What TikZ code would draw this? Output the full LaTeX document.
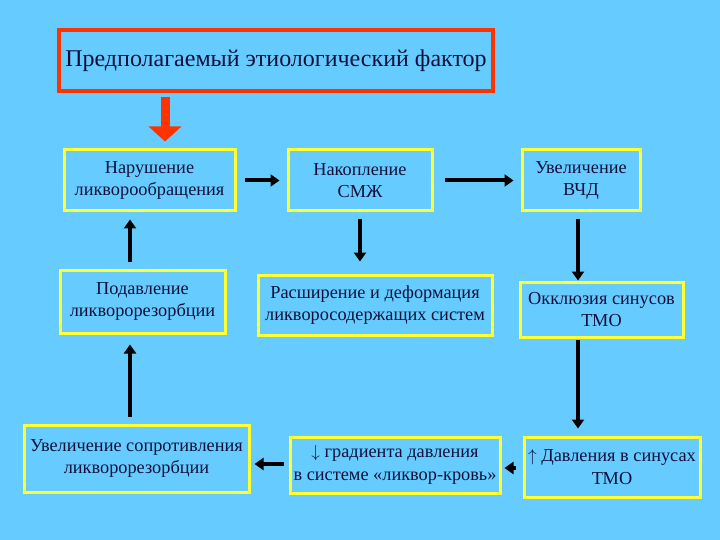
\documentclass[tikz,border=0pt]{standalone}
\usepackage{fontspec}
\setmainfont{Liberation Serif}
\usetikzlibrary{arrows.meta}
\definecolor{bg}{HTML}{66CCFF}
\definecolor{ybord}{HTML}{FFFF33}
\definecolor{rbord}{HTML}{FF3300}
\definecolor{txt}{HTML}{10103A}
\tikzset{
  box/.style={draw=ybord, line width=3pt, align=center, text=txt, inner sep=0pt,
    font=\fontsize{18.3}{22.5}\selectfont},
  arr/.style={draw=black, line width=4pt, -{Triangle[length=9pt,width=12pt]}},
  redarr/.style={draw=rbord, line width=9pt, -{Triangle[length=15pt,width=32pt]}},
}
\begin{document}
\begin{tikzpicture}[x=1pt,y=-1pt]
\fill[bg] (0,0) rectangle (720,540);
\useasboundingbox (0,0) rectangle (720,540);
\node[draw=rbord, line width=4.5pt, minimum width=434pt, minimum height=61pt, text=txt,
  font=\fontsize{24}{28}\selectfont] (top) at (276,60.5) {Предполагаемый этиологический фактор};
\node[box, minimum width=171pt, minimum height=61pt] (A) at (149.5,180.5) {Нарушение\\ликворообращения};
\node[box, minimum width=144pt, minimum height=61pt] (B) at (360,180.5) {Накопление\\СМЖ};
\node[box, minimum width=118pt, minimum height=61pt] (C) at (581,180.5) {Увеличение\\ВЧД};
\node[box, minimum width=165pt, minimum height=63pt] (D) at (142.5,301.5) {Подавление\\ликворорезорбции};
\node[box, minimum width=234pt, minimum height=60pt] (E) at (375,305) {Расширение и деформация\\ликворосодержащих систем};
\node[box, minimum width=163pt, minimum height=55pt] (F) at (601.5,309.5) {Окклюзия синусов\\ТМО};
\node[box, minimum width=225pt, minimum height=67pt] (G) at (136.5,458.5) {Увеличение сопротивления\\ликворорезорбции};
\node[box, minimum width=210pt, minimum height=56pt] (H) at (395,465) {$\downarrow$ градиента давления\\в системе «ликвор-кровь»};
\node[box, minimum width=176pt, minimum height=60pt] (I) at (612,467) {$\uparrow$ Давления в синусах\\ТМО};
\coordinate (colL) at (130,0);
\coordinate (colR) at (165,0);
\coordinate (colC) at (578,0);
\draw[redarr, shorten <=4pt, shorten >=7pt] (top.south -| colR) -- (A.north -| colR);
\draw[arr, shorten <=8pt, shorten >=7pt] (A.east) -- (B.west);
\draw[arr, shorten <=11pt, shorten >=7pt] (B.east) -- (C.west);
\draw[arr, shorten <=7pt, shorten >=12pt] (B.south) -- (E.north -| B.south);
\draw[arr, shorten <=7pt, shorten >=0pt] (C.south -| colC) -- (F.north -| colC);
\draw[arr, shorten <=1pt, shorten >=7pt] (F.south -| colC) -- (I.north -| colC);
\draw[arr, shorten <=7pt, shorten >=7pt] (D.north -| colL) -- (A.south -| colL);
\draw[arr, shorten <=7pt, shorten >=10pt] (G.north -| colL) -- (D.south -| colL);
\draw[arr, shorten <=5pt, shorten >=4pt] ([yshift=1pt]H.west) -- ([yshift=1pt]H.west -| G.east);
\draw[arr, shorten <=7pt, shorten >=3pt] ([yshift=-1pt]I.west) -- ([yshift=-1pt]I.west -| H.east);
\end{tikzpicture}
\end{document}
